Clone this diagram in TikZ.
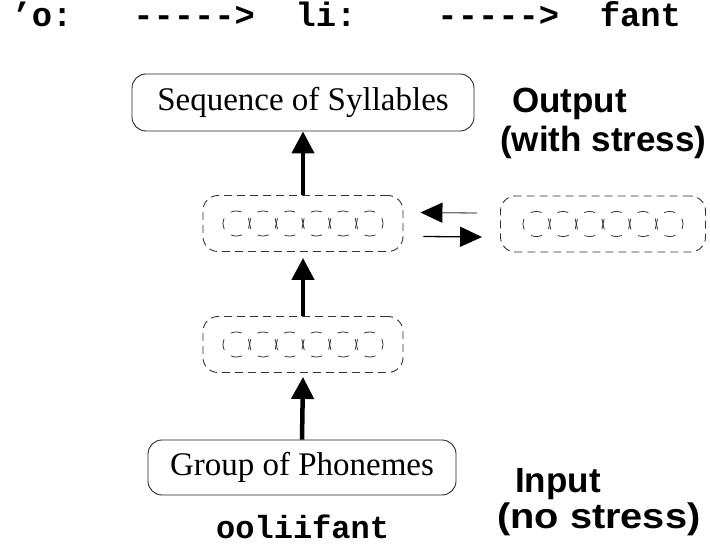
\documentclass[tikz,border=0pt]{standalone}
\usepackage{fontspec}
\setmainfont{Liberation Serif}
\setsansfont{Liberation Sans}
\setmonofont{Liberation Mono}
\newfontfamily\widesans{Liberation Sans}[FakeStretch=1.12]
\usetikzlibrary{arrows.meta}
\begin{document}
\begin{tikzpicture}[x=1pt,y=-1pt,
  solidbox/.style={draw=black!85,line width=0.9pt,rounded corners=14pt,inner sep=0pt,
    font=\fontsize{33}{38}\selectfont},
  layerbox/.style={draw=black!80,line width=0.9pt,dash pattern=on 8pt off 5pt,
    rounded corners=15pt,inner sep=0pt,minimum width=200pt,minimum height=56pt},
  unit/.style={draw=black!80,line width=0.8pt,dash pattern=on 11pt off 9.3pt,dash phase=5.5pt},
  bigarrow/.style={line width=4.5pt,-{Triangle[length=22pt,width=22pt]}},
  smallarrow/.style={line width=1.3pt,-{Triangle[length=22pt,width=20pt,color=black]}},
  tag/.style={font=\sffamily\bfseries\fontsize{35}{40}\selectfont,anchor=base west,inner sep=0pt},
  code/.style={font=\ttfamily\bfseries\fontsize{33.8}{40}\selectfont,anchor=base west,inner sep=0pt}]
\useasboundingbox (0,0) rectangle (710,548);

% syllable sequence shown above the network
\node[code] (trace) at (11.4,27)
  {’o:\ \ \ -\kern0pt-\kern0pt-\kern0pt-\kern0pt->\ \ li:\ \ \ \ -\kern0pt-\kern0pt-\kern0pt-\kern0pt->\ \ fant};

% output and input boxes
\node[solidbox,minimum width=342pt,minimum height=57pt] (syl) at (303,102.5) {Sequence of Syllables};
\node[solidbox,minimum width=308pt,minimum height=55pt] (pho) at (302,467.5) {Group of Phonemes};

% hidden layers and the context layer
\node[layerbox] (hid) at (303,223.5) {};
\node[layerbox] (low) at (303,344.5) {};
\node[layerbox,minimum width=205pt] (ctx) at (603,224) {};

\foreach \n in {hid,low,ctx}
  \foreach \i in {0,...,5}
    \draw[unit] ([xshift={(\i-2.5)*26.7pt}]\n.center) ellipse [x radius=13.35pt,y radius=12.5pt];

% forward connections
\draw[bigarrow] (pho.north) -- ([yshift=-4pt]low.south);
\draw[bigarrow] (low.north) -- ([yshift=-6pt]hid.south);
\draw[bigarrow] (hid.north) -- (syl.south);

% recurrent copy to and from the context layer
\draw[smallarrow,draw=black!55] ([xshift=-23pt,yshift=11pt]ctx.west) -- ([xshift=17pt,yshift=11pt]hid.east);
\draw[smallarrow] ([xshift=20pt,yshift=-13pt]hid.east) -- ([xshift=-18pt,yshift=-13pt]ctx.west);

% labels
\node[tag] (outA) at (512,113) {Output};
\node[tag] (outB) at (500,152) {(with stress)};
\node[tag] (inA) at (515,492) {Input};
\node[tag,font=\widesans\bfseries\fontsize{35.5}{40}\selectfont] (inB) at (497,528) {(no stress)};
\node[code,font=\ttfamily\bfseries\fontsize{32}{38}\selectfont] (word) at (216,538) {ooliifant};
\end{tikzpicture}
\end{document}
